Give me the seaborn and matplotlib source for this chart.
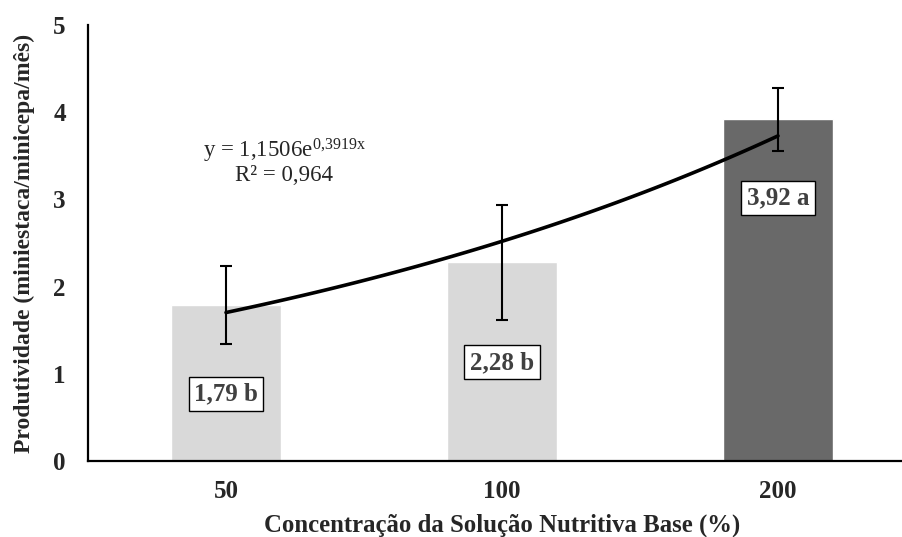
import numpy as np
import pandas as pd
import matplotlib
matplotlib.use("Agg")
import matplotlib.pyplot as plt
import seaborn as sns

# data
concentracao = ["50", "100", "200"]
produtividade = [1.79, 2.28, 3.92]
erro = [0.45, 0.66, 0.36]
rotulos = ["1,79 b", "2,28 b", "3,92 a"]
rotulo_y = [0.77, 1.13, 3.02]
cores = ["#d9d9d9", "#d9d9d9", "#696969"]

# exponential trendline shown on the chart: y = a * exp(b * x), x = 1..3
coef_a = 1.1506
coef_b = 0.3919

df = pd.DataFrame({"Concentracao": concentracao, "Produtividade": produtividade})

sns.set_style("white")
plt.rcParams['font.family'] = ['Liberation Serif', 'DejaVu Serif']
plt.rcParams['mathtext.fontset'] = 'custom'
plt.rcParams['mathtext.rm'] = 'Liberation Serif'
plt.rcParams['mathtext.it'] = 'Liberation Serif'

fig = plt.figure(figsize=(9.02, 5.37), dpi=100)
ax = fig.add_axes([88 / 902, 76 / 537, 828 / 902, 436 / 537])

sns.barplot(data=df, x="Concentracao", y="Produtividade", hue="Concentracao",
            palette=cores, width=0.40, legend=False, saturation=1, ax=ax)

pos = np.arange(len(concentracao))
ax.errorbar(pos, produtividade, yerr=erro, fmt="none", ecolor="black",
            elinewidth=1.5, capsize=4.5, capthick=1.5, zorder=3)

# trendline
xt = np.linspace(1, 3, 100)
yt = coef_a * np.exp(coef_b * xt)
sns.lineplot(x=xt - 1, y=yt, color="black", linewidth=2.6, ax=ax, zorder=4)

for p, txt, yy in zip(pos, rotulos, rotulo_y):
    ax.text(p, yy, txt, ha="center", va="center", fontsize=18, fontweight="bold",
            color="#404040",
            bbox=dict(boxstyle="square,pad=0.22", facecolor="white", edgecolor="black", linewidth=1))

ax.text(0.21, 3.56, r"y = 1,1506e$^{\mathrm{0{,}3919x}}$", ha="center", va="center", fontsize=16.5)
ax.text(0.21, 3.27, "R² = 0,964", ha="center", va="center", fontsize=16.5)

ax.set_xlim(-0.5, 2.5)
ax.set_ylim(0, 5)
ax.set_yticks([0, 1, 2, 3, 4, 5])
ax.tick_params(axis="both", length=0, labelsize=18)
ax.tick_params(axis="x", pad=14)
ax.tick_params(axis="y", pad=16)
for lab in ax.get_xticklabels() + ax.get_yticklabels():
    lab.set_fontweight("bold")

ax.set_xlabel("Concentração da Solução Nutritiva Base (%)", fontsize=17.8, fontweight="bold", labelpad=7)
ax.set_ylabel("Produtividade (miniestaca/minicepa/mês)", fontsize=17, fontweight="bold", labelpad=13)

sns.despine(ax=ax)
for s in ["left", "bottom"]:
    ax.spines[s].set_color("black")
    ax.spines[s].set_linewidth(1.6)

fig.savefig("out.png", dpi=100)
